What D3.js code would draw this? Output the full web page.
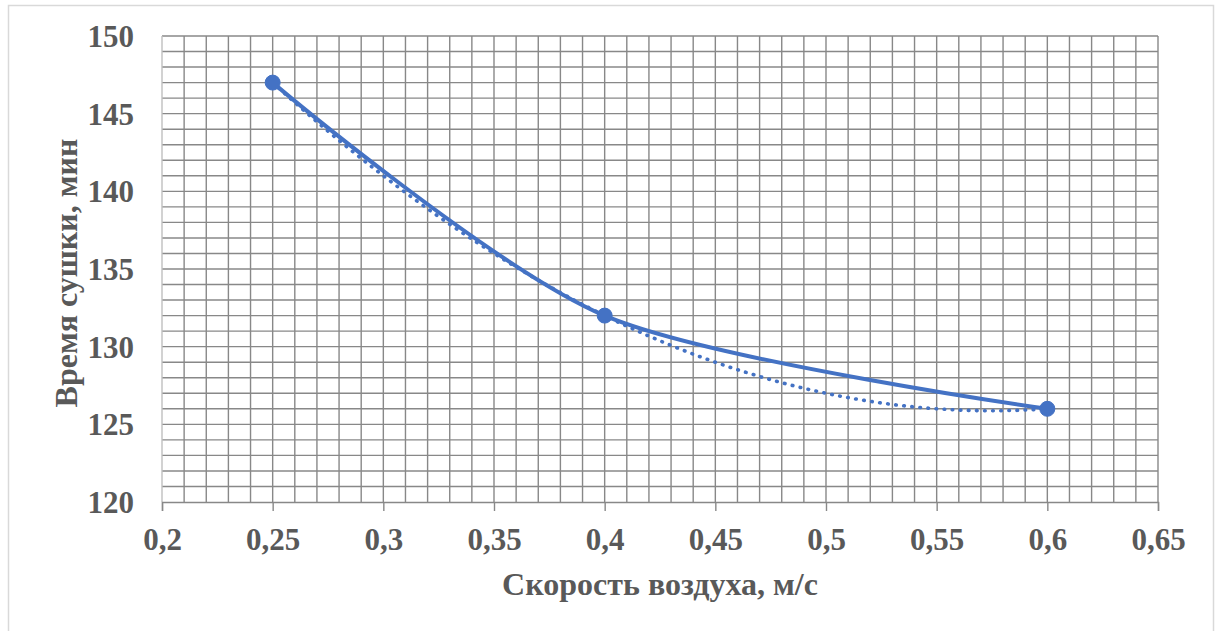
<!DOCTYPE html>
<html>
<head>
<meta charset="utf-8">
<script src="https://cdn.jsdelivr.net/npm/d3@7"></script>
<style>
  html, body { margin: 0; padding: 0; background: #fff; }
  svg { display: block; }
  text { font-family: "Liberation Serif", "Times New Roman", serif; font-weight: bold; fill: #595959; }
</style>
</head>
<body>
<script>
// ---- data ----
const xValues = [0.25, 0.4, 0.6];
const yValues = [147, 132, 126];
const xTickValues = [0.2, 0.25, 0.3, 0.35, 0.4, 0.45, 0.5, 0.55, 0.6, 0.65];
const xTickLabels = ["0,2", "0,25", "0,3", "0,35", "0,4", "0,45", "0,5", "0,55", "0,6", "0,65"];
const yTickValues = [120, 125, 130, 135, 140, 145, 150];
const yTickLabels = ["120", "125", "130", "135", "140", "145", "150"];
const xTitle = "Скорость воздуха, м/с";
const yTitle = "Время сушки, мин";

const W = 1216, H = 631;
const svg = d3.select("body").append("svg").attr("width", W).attr("height", H);

// outer chart border
svg.append("rect").attr("x", 8.5).attr("y", 5.5).attr("width", 1205).attr("height", 640)
  .attr("fill", "#fff").attr("stroke", "#d9d9d9").attr("stroke-width", 1.5);

const x = d3.scaleLinear().domain([0.2, 0.65]).range([162, 1158]);
const y = d3.scaleLinear().domain([120, 150]).range([502, 36]);

// minor grid (0.01 in x, 1 in y)
const xGrid = d3.range(21, 66).map(i => i / 100);
const yGrid = d3.range(121, 151);
const g = svg.append("g");
g.selectAll("line.vg").data(xGrid).join("line")
  .attr("x1", d => x(d)).attr("x2", d => x(d)).attr("y1", y(150)).attr("y2", y(120))
  .attr("stroke", "#888").attr("stroke-width", 1.4);
g.selectAll("line.hg").data(yGrid).join("line")
  .attr("x1", x(0.2)).attr("x2", x(0.65)).attr("y1", d => y(d)).attr("y2", d => y(d))
  .attr("stroke", "#888").attr("stroke-width", 1.4);

// left axis line (light)
g.append("line").attr("x1", x(0.2)).attr("x2", x(0.2)).attr("y1", y(150)).attr("y2", y(120))
  .attr("stroke", "#bfbfbf").attr("stroke-width", 1.4);

// bottom axis with ticks
const xAxis = d3.axisBottom(x).tickValues(xTickValues).tickSize(9).tickPadding(16)
  .tickFormat((d, i) => xTickLabels[i]);
const xa = svg.append("g").attr("transform", `translate(0,${y(120)})`).call(xAxis);
xa.select(".domain").attr("stroke", "#888").attr("stroke-width", 1.4);
xa.selectAll(".tick line").attr("stroke", "#888").attr("stroke-width", 1.4);
xa.selectAll(".tick text").attr("font-size", 31).attr("fill", "#595959")
  .attr("font-family", "Liberation Serif, Times New Roman, serif").attr("font-weight", "bold")
  .attr("dy", null).attr("y", 48);

// left axis labels
const yAxis = d3.axisLeft(y).tickValues(yTickValues).tickSize(0).tickPadding(28)
  .tickFormat((d, i) => yTickLabels[i]);
const ya = svg.append("g").attr("transform", `translate(${x(0.2)},0)`).call(yAxis);
ya.select(".domain").remove();
ya.selectAll(".tick text").attr("font-size", 31).attr("fill", "#595959")
  .attr("font-family", "Liberation Serif, Times New Roman, serif").attr("font-weight", "bold")
  .attr("dy", "0.34em");

// trendline: polynomial (order 2) least-squares fit
function polyfit2(xs, ys) {
  const n = xs.length;
  let s = [0,0,0,0,0], t = [0,0,0];
  for (let i = 0; i < n; i++) {
    const xi = xs[i];
    for (let k = 0; k <= 4; k++) s[k] += Math.pow(xi, k);
    for (let k = 0; k <= 2; k++) t[k] += ys[i] * Math.pow(xi, k);
  }
  const A = [[s[0], s[1], s[2], t[0]], [s[1], s[2], s[3], t[1]], [s[2], s[3], s[4], t[2]]];
  for (let c = 0; c < 3; c++) {
    let p = c;
    for (let r = c + 1; r < 3; r++) if (Math.abs(A[r][c]) > Math.abs(A[p][c])) p = r;
    [A[c], A[p]] = [A[p], A[c]];
    for (let r = 0; r < 3; r++) if (r !== c) {
      const f = A[r][c] / A[c][c];
      for (let k = c; k < 4; k++) A[r][k] -= f * A[c][k];
    }
  }
  return [A[0][3] / A[0][0], A[1][3] / A[1][1], A[2][3] / A[2][2]];
}
const coef = polyfit2(xValues, yValues);
const xmin = d3.min(xValues), xmax = d3.max(xValues);
const trendX = d3.range(0, 201).map(i => xmin + (xmax - xmin) * i / 200);
const trend = trendX.map(v => [v, coef[0] + coef[1] * v + coef[2] * v * v]);

svg.append("path").datum(trend)
  .attr("d", d3.line().x(d => x(d[0])).y(d => y(d[1])))
  .attr("fill", "none").attr("stroke", "#4472c4").attr("stroke-width", 3.6)
  .attr("stroke-linecap", "round").attr("stroke-dasharray", "0.6 7.5");

// smoothed series line
const pts = xValues.map((v, i) => [v, yValues[i]]);
svg.append("path").datum(pts)
  .attr("d", d3.line().x(d => x(d[0])).y(d => y(d[1])).curve(d3.curveCardinal.tension(0.15)))
  .attr("fill", "none").attr("stroke", "#4472c4").attr("stroke-width", 4)
  .attr("stroke-linejoin", "round").attr("stroke-linecap", "round");

svg.selectAll("circle.m").data(pts).join("circle")
  .attr("cx", d => x(d[0])).attr("cy", d => y(d[1])).attr("r", 7.5)
  .attr("fill", "#4472c4").attr("stroke", "#4472c4").attr("stroke-width", 1);

// axis titles
svg.append("text").attr("x", (x(0.2) + x(0.65)) / 2).attr("y", 595)
  .attr("text-anchor", "middle").attr("font-size", 32).text(xTitle);
svg.append("text").attr("transform", `translate(77,${(y(120) + y(150)) / 2 + 4}) rotate(-90)`)
  .attr("text-anchor", "middle").attr("font-size", 32).text(yTitle);
</script>
</body>
</html>
